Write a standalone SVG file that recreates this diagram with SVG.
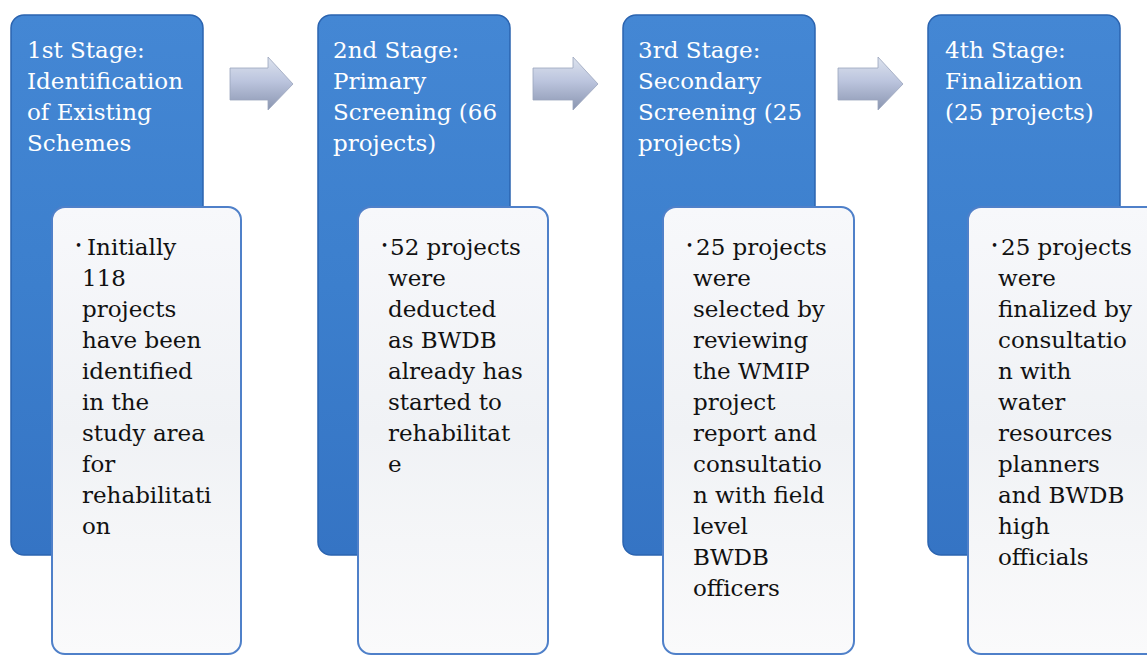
<svg xmlns="http://www.w3.org/2000/svg" width="1147" height="657" viewBox="0 0 1147 657">
<style>
.stage{fill:url(#blueG);stroke:#2b64b0;stroke-width:1.5}
.card{fill:url(#whiteG);stroke:#4f80c9;stroke-width:2}
.arrow{fill:url(#arrowG);stroke:#9aa5bd;stroke-width:0.8}
.head{font-family:"DejaVu Serif","Liberation Serif",serif;font-size:23px;fill:#ffffff}
.body{font-family:"DejaVu Serif","Liberation Serif",serif;font-size:23px;fill:#111111}
.bul{font-family:"DejaVu Serif","Liberation Serif",serif;font-size:12px;fill:#111111}
</style>
<defs>
<linearGradient id="blueG" x1="0" y1="0" x2="0" y2="1">
<stop offset="0" stop-color="#4487d4"/>
<stop offset="0.5" stop-color="#3c7fcd"/>
<stop offset="1" stop-color="#3574c4"/>
</linearGradient>
<linearGradient id="whiteG" x1="0" y1="0" x2="0" y2="1">
<stop offset="0" stop-color="#f7f8fb"/>
<stop offset="0.5" stop-color="#f0f2f5"/>
<stop offset="1" stop-color="#fafafb"/>
</linearGradient>
<linearGradient id="arrowG" x1="0" y1="0" x2="0" y2="1">
<stop offset="0" stop-color="#dde3ee"/>
<stop offset="0.45" stop-color="#bcc5de"/>
<stop offset="1" stop-color="#8a95b0"/>
</linearGradient>
</defs>

<g id="connectors">
<path class="arrow" d="M230,68 L268,68 L268,57 L293,84 L268,110 L268,100 L230,100 Z"/>
<path class="arrow" d="M533,68 L573,68 L573,57 L598,84 L573,110 L573,100 L533,100 Z"/>
<path class="arrow" d="M838,68 L878,68 L878,57 L903,84 L878,110 L878,100 L838,100 Z"/>
</g>

<g id="stage1">
<rect class="stage" x="11" y="15" width="192" height="540" rx="13"/>
<text class="head" x="27" y="58">1st Stage:</text>
<text class="head" x="27" y="89">Identification</text>
<text class="head" x="27" y="120">of Existing</text>
<text class="head" x="27" y="151">Schemes</text>
<rect class="card" x="52" y="207" width="189" height="447" rx="13"/>
<text class="bul" x="75" y="250">•</text>
<text class="body" x="87" y="255">Initially</text>
<text class="body" x="82"><tspan x="82" y="286">118</tspan><tspan x="82" y="317">projects</tspan><tspan x="82" y="348">have been</tspan><tspan x="82" y="379">identified</tspan><tspan x="82" y="410">in the</tspan><tspan x="82" y="441">study area</tspan><tspan x="82" y="472">for</tspan><tspan x="82" y="503">rehabilitati</tspan><tspan x="82" y="534">on</tspan></text>
</g>

<g id="stage2">
<rect class="stage" x="318" y="15" width="192" height="540" rx="13"/>
<text class="head" x="333" y="58">2nd Stage:</text>
<text class="head" x="333" y="89">Primary</text>
<text class="head" x="333" y="120">Screening (66</text>
<text class="head" x="333" y="151">projects)</text>
<rect class="card" x="358" y="207" width="190" height="447" rx="13"/>
<text class="bul" x="381" y="250">•</text>
<text class="body" x="390" y="255">52 projects</text>
<text class="body" x="388"><tspan x="388" y="286">were</tspan><tspan x="388" y="317">deducted</tspan><tspan x="388" y="348">as BWDB</tspan><tspan x="388" y="379">already has</tspan><tspan x="388" y="410">started to</tspan><tspan x="388" y="441">rehabilitat</tspan><tspan x="388" y="472">e</tspan></text>
</g>

<g id="stage3">
<rect class="stage" x="623" y="15" width="192" height="540" rx="13"/>
<text class="head" x="638" y="58">3rd Stage:</text>
<text class="head" x="638" y="89">Secondary</text>
<text class="head" x="638" y="120">Screening (25</text>
<text class="head" x="638" y="151">projects)</text>
<rect class="card" x="663" y="207" width="191" height="447" rx="13"/>
<text class="bul" x="686" y="250">•</text>
<text class="body" x="696" y="255">25 projects</text>
<text class="body" x="693"><tspan x="693" y="286">were</tspan><tspan x="693" y="317">selected by</tspan><tspan x="693" y="348">reviewing</tspan><tspan x="693" y="379">the WMIP</tspan><tspan x="693" y="410">project</tspan><tspan x="693" y="441">report and</tspan><tspan x="693" y="472">consultatio</tspan><tspan x="693" y="503">n with field</tspan><tspan x="693" y="534">level</tspan><tspan x="693" y="565">BWDB</tspan><tspan x="693" y="596">officers</tspan></text>
</g>

<g id="stage4">
<rect class="stage" x="928" y="15" width="192" height="540" rx="13"/>
<text class="head" x="945" y="58">4th Stage:</text>
<text class="head" x="945" y="89">Finalization</text>
<text class="head" x="945" y="120">(25 projects)</text>
<rect class="card" x="968" y="207" width="191" height="447" rx="13"/>
<text class="bul" x="991" y="250">•</text>
<text class="body" x="1001" y="255">25 projects</text>
<text class="body" x="998"><tspan x="998" y="286">were</tspan><tspan x="998" y="317">finalized by</tspan><tspan x="998" y="348">consultatio</tspan><tspan x="998" y="379">n with</tspan><tspan x="998" y="410">water</tspan><tspan x="998" y="441">resources</tspan><tspan x="998" y="472">planners</tspan><tspan x="998" y="503">and BWDB</tspan><tspan x="998" y="534">high</tspan><tspan x="998" y="565">officials</tspan></text>
</g>
</svg>
